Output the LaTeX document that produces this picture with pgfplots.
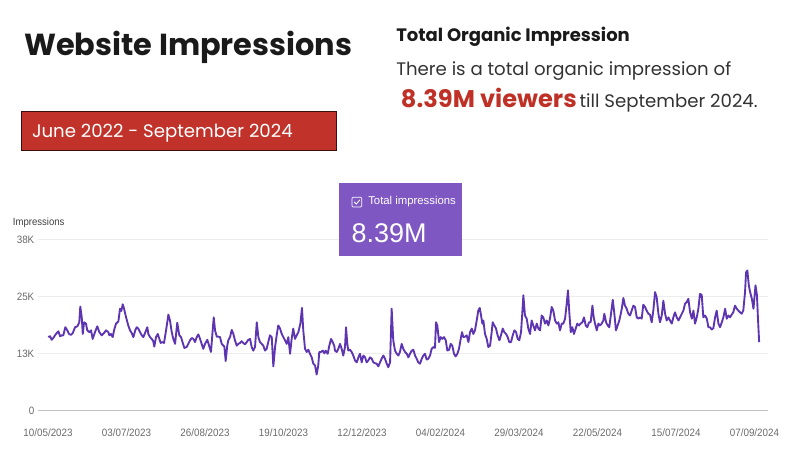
\documentclass[border=0pt]{standalone}
\usepackage{pgfplots}
\pgfplotsset{compat=1.18}
\usepackage{pgfplotstable}
\usepackage{fontspec}
\setmainfont{Poppins}
\newfontfamily\chartfont[FakeStretch=0.92]{Liberation Sans}
\newfontfamily\boxfont{Liberation Sans}
\definecolor{titleblack}{HTML}{1A1A1A}
\definecolor{boxred}{HTML}{C0322A}
\definecolor{txtred}{HTML}{BF3126}
\definecolor{bodygray}{HTML}{333333}
\definecolor{gscpurple}{HTML}{7E57C2}
\definecolor{linepurple}{HTML}{5E35B1}
\definecolor{gridgray}{HTML}{EDEDED}
\definecolor{ticklab}{HTML}{6A6A6A}

\pgfplotstableread{
day val
0.2 16.3
1.4 16.5
2.5 15.7
3.6 16.1
4.8 16.7
6.0 17.2
7.1 17.6
8.3 16.5
9.4 16.7
10.5 16.7
11.9 18.5
13.3 17.8
14.4 17.0
15.8 16.8
17.0 17.2
18.6 18.5
20.2 18.7
21.5 19.6
22.2 23.1
23.2 20.7
23.9 17.0
24.8 19.6
26.1 19.3
27.0 17.8
28.4 17.4
29.6 17.8
30.7 15.9
32.3 17.4
33.9 18.7
35.3 17.4
36.9 16.7
38.5 17.2
39.9 17.8
41.5 17.4
42.2 16.7
43.3 17.0
44.5 16.3
45.4 17.8
46.8 19.3
48.4 19.8
49.5 22.6
50.4 22.1
51.4 23.6
52.3 22.6
53.7 20.7
55.2 18.9
56.4 17.8
57.6 17.2
58.7 16.3
60.1 17.9
61.0 18.5
62.1 18.2
63.3 17.4
64.5 16.7
65.6 16.3
66.7 17.2
68.3 18.5
69.0 17.0
70.2 16.3
71.3 15.9
72.4 15.4
73.1 14.2
74.3 16.3
75.5 17.0
76.6 15.9
77.5 15.0
78.6 15.2
79.8 15.0
81.2 17.8
82.8 21.3
83.9 20.0
85.1 17.4
86.2 15.9
87.4 14.8
88.9 19.5
90.3 16.7
91.5 16.3
92.7 15.0
93.8 13.9
95.4 14.1
97.7 15.6
98.9 16.1
100.0 15.9
101.1 15.2
102.3 16.3
103.4 16.9
104.6 15.9
105.7 14.8
106.8 13.7
108.0 14.8
109.6 15.7
110.8 14.4
112.1 13.0
113.0 16.7
114.0 20.7
114.9 17.8
116.1 16.4
117.2 16.4
118.3 16.3
119.5 14.8
120.6 14.4
121.3 14.2
122.2 11.0
123.3 14.4
124.0 15.6
125.2 16.3
126.4 17.9
127.5 17.0
128.6 15.6
129.8 14.4
130.9 14.8
132.1 15.0
133.2 15.4
134.3 15.0
135.5 14.7
136.7 15.2
137.8 15.7
139.0 15.9
140.1 14.1
141.2 13.3
142.4 14.1
143.6 19.6
144.7 16.3
145.8 15.2
147.0 14.8
148.1 14.4
149.3 13.3
150.4 13.7
151.5 15.2
152.7 16.7
153.9 16.3
155.0 9.8
156.2 14.1
157.3 16.7
158.4 18.9
159.6 18.2
160.8 17.0
161.9 16.3
163.0 15.6
164.2 14.8
165.3 16.3
166.5 12.6
167.6 15.9
168.7 18.2
169.9 15.9
171.1 16.7
172.2 17.4
173.6 19.3
174.7 22.8
175.6 17.8
176.8 13.7
178.0 13.0
179.1 13.5
180.2 12.6
181.4 11.8
182.5 10.4
183.7 10.0
184.8 8.0
185.9 10.0
186.6 13.0
187.8 13.0
189.0 13.3
190.1 12.7
191.0 13.3
192.4 12.6
193.5 14.4
194.7 15.9
195.8 15.2
196.9 14.4
197.4 13.3
198.6 13.0
199.7 13.7
200.9 14.8
202.0 13.7
203.1 12.2
204.3 14.1
205.0 18.5
205.9 14.8
206.6 13.3
207.7 13.5
208.9 13.0
210.0 12.2
211.2 11.1
212.4 10.7
213.5 11.8
214.6 12.6
215.8 10.7
216.9 12.2
218.1 11.8
219.2 10.7
220.3 11.1
221.5 11.8
222.7 11.5
223.8 10.7
224.9 10.5
226.1 10.4
227.2 9.8
228.4 10.7
229.5 11.5
230.7 12.2
231.8 11.5
233.0 10.4
234.1 9.6
235.3 10.7
236.4 22.6
237.5 15.6
238.7 13.3
239.9 12.6
241.0 12.2
242.1 13.0
243.3 14.8
244.4 13.7
245.6 13.0
246.8 12.6
247.9 11.8
249.0 12.6
250.2 13.3
251.3 13.5
252.5 12.2
253.6 11.5
254.7 10.7
255.9 10.4
257.1 11.5
258.2 12.2
259.3 12.6
260.5 11.3
261.6 11.5
262.8 12.2
263.9 13.7
265.1 14.1
266.2 13.9
266.9 19.6
267.8 18.9
269.0 15.2
270.1 16.3
271.2 15.9
272.4 16.3
273.6 15.6
274.7 13.3
275.9 13.5
277.0 14.8
278.1 14.4
279.3 12.6
280.4 12.0
281.6 12.6
282.7 13.7
283.9 15.9
284.8 17.4
285.7 16.3
286.9 16.4
288.0 16.7
289.2 15.2
290.3 17.4
291.5 18.2
292.6 17.0
293.7 17.8
294.9 20.0
296.0 22.2
297.0 22.8
297.9 21.1
298.8 19.3
299.5 20.0
300.6 17.0
301.8 15.9
302.9 14.1
304.1 14.4
305.2 17.4
305.9 19.6
307.0 18.9
308.2 18.2
309.3 16.7
310.5 15.6
311.6 16.7
312.8 18.2
313.9 17.4
315.1 17.0
316.2 16.3
317.3 15.2
318.5 15.2
319.7 16.7
320.8 17.8
322.0 17.4
323.1 15.9
324.2 15.6
325.4 17.4
326.3 21.8
327.0 25.6
328.1 21.1
329.3 20.4
330.4 18.2
331.6 17.0
332.7 20.0
333.8 18.9
335.0 17.8
336.2 19.3
337.3 18.2
338.5 17.8
339.6 21.1
340.7 20.7
341.9 19.3
343.1 20.0
344.2 18.9
345.3 20.4
346.5 23.0
347.6 22.2
348.8 20.0
350.0 19.3
351.1 19.6
352.2 17.8
353.4 19.3
354.5 19.3
355.7 20.4
356.8 23.7
357.7 26.7
358.6 21.8
359.6 17.4
360.7 18.5
361.8 17.0
363.0 18.2
364.1 19.3
365.3 18.9
366.4 19.3
367.6 19.6
368.7 20.7
369.9 18.9
371.0 18.5
372.2 19.6
373.3 19.6
374.5 23.3
375.4 20.7
376.3 19.3
377.5 17.8
378.6 19.3
379.7 18.9
380.9 19.3
382.0 20.0
382.7 21.5
383.9 19.6
385.0 18.9
386.1 18.5
387.3 21.5
388.5 24.6
389.6 21.5
390.7 17.8
391.9 18.9
393.0 20.0
393.5 20.7
394.7 22.6
395.8 25.0
396.9 23.3
398.1 22.6
399.2 21.5
400.4 21.1
401.5 22.2
402.7 23.3
403.8 23.0
405.0 20.7
406.1 20.4
407.3 20.7
408.4 20.4
409.5 23.5
410.7 23.0
411.8 22.2
413.0 21.5
414.1 21.3
415.3 19.6
416.4 22.2
417.6 26.3
418.7 25.2
419.9 21.5
421.0 19.6
422.2 21.1
423.3 24.4
424.5 21.5
425.6 20.0
426.8 20.7
427.9 20.0
429.1 19.3
430.2 20.7
431.3 21.8
432.5 20.7
433.7 20.0
434.8 20.7
436.0 21.5
437.1 22.2
438.2 23.7
439.4 24.1
440.5 24.8
441.7 21.8
442.9 20.4
444.0 22.2
445.1 19.3
446.3 20.7
447.4 22.6
448.5 25.9
449.7 25.7
450.8 20.7
452.0 21.1
453.2 20.4
454.3 18.5
455.4 18.5
456.6 18.0
457.7 18.3
458.9 20.7
460.0 22.2
461.2 19.3
462.3 18.5
463.5 19.6
464.6 20.7
465.8 22.6
466.9 20.4
468.1 21.1
469.2 20.7
470.3 21.3
471.4 21.8
472.6 23.3
473.8 22.6
474.9 22.2
476.1 21.8
477.2 21.5
478.3 22.2
479.5 26.3
480.2 30.7
481.1 31.1
482.1 27.8
483.0 26.3
484.2 24.8
485.3 22.6
486.0 25.2
486.7 27.8
487.7 25.6
488.3 21.1
489.2 15.2
}\impressions

\begin{document}
\begin{tikzpicture}
\path[use as bounding box] (0,0) rectangle (600pt,341.25pt);
% headings
\node[anchor=base west, inner sep=0pt, text=titleblack, font=\fontsize{22.8}{26}\selectfont\bfseries] at (18pt,300pt) {Website Impressions};
\fill[boxred, draw=black!70!boxred, line width=0.6pt] (16.3pt,228.75pt) rectangle (252pt,258pt);
\node[anchor=base west, inner sep=0pt, text=white, font=\fontsize{13.6}{16}\selectfont] at (23.8pt,238.5pt) {June 2022 - September 2024};
\node[anchor=base west, inner sep=0pt, text=titleblack, font=\fontsize{13.5}{15}\selectfont\bfseries] at (297pt,310pt) {Total Organic Impression};
\node[anchor=base west, inner sep=0pt, text=bodygray, font=\fontsize{13.6}{15}\selectfont] at (297pt,284.5pt) {There is a total organic impression of};
\node[anchor=base west, inner sep=0pt, text=txtred, font=\fontsize{18.1}{22}\selectfont\bfseries] at (300.5pt,260.8pt) {8.39M viewers};
\node[anchor=base west, inner sep=0pt, text=bodygray, font=\fontsize{13.6}{15}\selectfont] at (434.5pt,260.8pt) {till September 2024.};
% axis label
\node[anchor=west, inner sep=0pt, text=black!75, font=\chartfont\fontsize{7.8}{9}\selectfont] at (9.5pt,173.8pt) {Impressions};
\begin{axis}[
  at={(28.5pt,33.4pt)}, anchor=south west,
  scale only axis, width=547.5pt, height=128.25pt,
  xmin=-6.9, xmax=495.3, ymin=0, ymax=38,
  axis line style={draw=none},
  major tick length=0pt,
  xtick={0,54,108,162,216,270,324,378,432,486},
  xticklabels={10/05/2023,03/07/2023,26/08/2023,19/10/2023,12/12/2023,04/02/2024,29/03/2024,22/05/2024,15/07/2024,07/09/2024},
  ytick={0,12.667,25.333,38},
  yticklabels={0,13K,25K,38K},
  ymajorgrids, grid style={gridgray, line width=0.75pt},
  tick label style={font=\chartfont\fontsize{8}{9}\selectfont, text=ticklab, inner sep=0pt},
  xticklabel style={anchor=base, yshift=-19.8pt},
  yticklabel style={anchor=east, xshift=-2.6pt},
  clip=false,
]
\draw[black!25, line width=1pt] (rel axis cs:0,0) -- (rel axis cs:1,0);
\addplot[linepurple, line width=1.4pt, line join=round, mark=none] table[x=day, y=val] {\impressions};
\end{axis}
% purple summary card
\fill[gscpurple] (254.25pt,149.25pt) rectangle (346.5pt,204pt);
\draw[white, line width=0.6pt, rounded corners=0.8pt] (264pt,186pt) rectangle (271.3pt,193.3pt);
\draw[white, line width=0.6pt] (265.6pt,189.8pt) -- (267.2pt,188.2pt) -- (269.8pt,191.3pt);
\node[anchor=west, inner sep=0pt, text=white, font=\boxfont\fontsize{8.5}{10}\selectfont] at (276pt,190pt) {Total impressions};
\node[anchor=base west, inner sep=0pt, text=white, font=\boxfont\fontsize{20.25}{22}\selectfont] at (263.5pt,159.2pt) {8.39M};
\end{tikzpicture}
\end{document}
